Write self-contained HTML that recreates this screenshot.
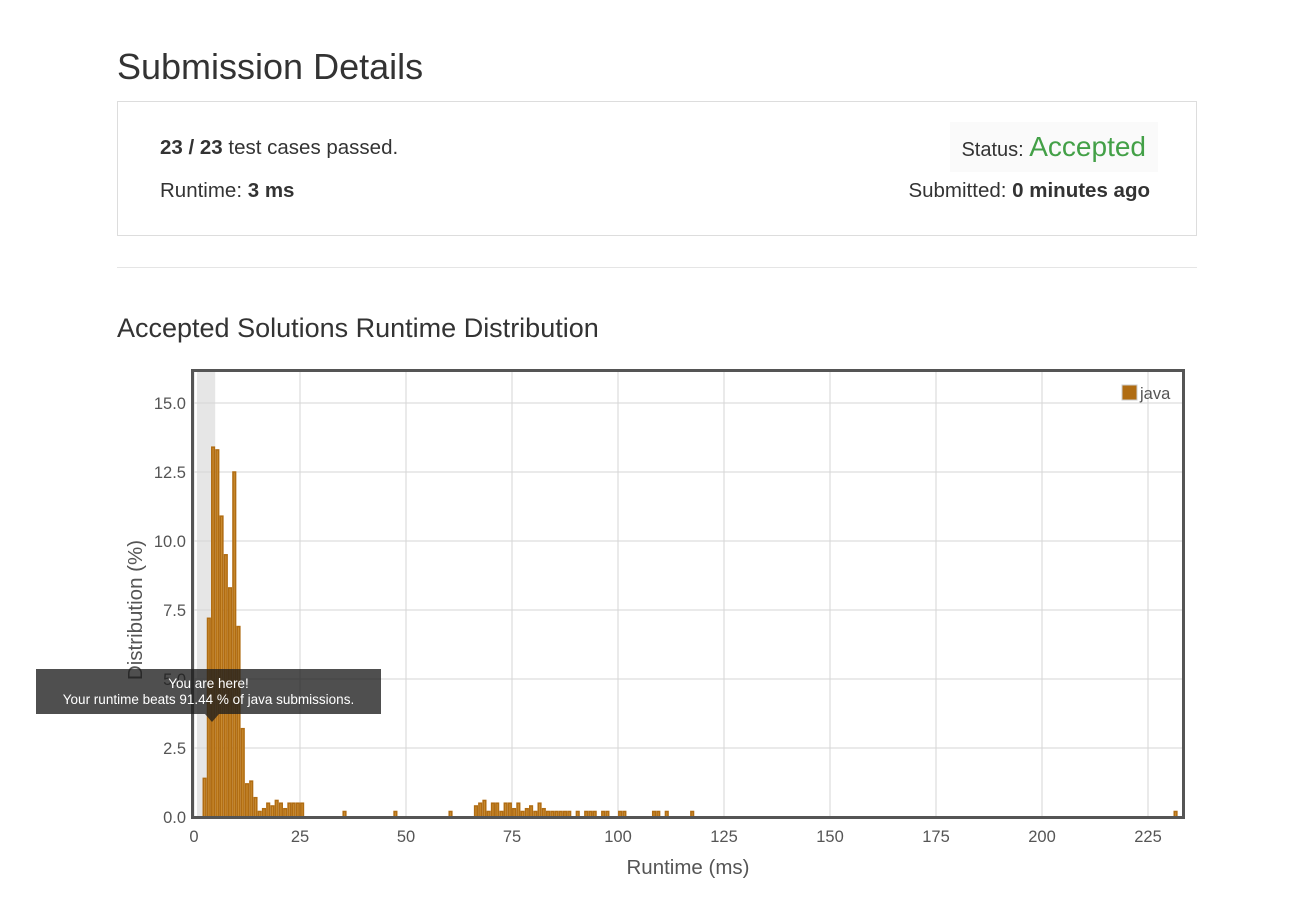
<!DOCTYPE html>
<html><head><meta charset="utf-8"><style>
body{margin:0;width:1291px;height:897px;background:#fff;font-family:"Liberation Sans",sans-serif;color:#333;position:relative;overflow:hidden}
.abs{position:absolute}
</style></head><body>
<div class="abs" style="left:117px;top:46px;font-size:36px;color:#333">Submission Details</div>
<div class="abs" style="left:117px;top:101px;width:1078px;height:133px;border:1px solid #ddd">
  <div class="abs" style="left:42px;top:34px;font-size:20.5px;white-space:nowrap"><b>23 / 23</b> test cases passed.</div>
  <div class="abs" style="left:42px;top:77px;font-size:20.5px;white-space:nowrap">Runtime: <b>3 ms</b></div>
  <div class="abs" style="left:832px;top:20px;width:208px;height:50px;background:#fafafa;font-size:20px;text-align:right;line-height:50px;padding-right:0;box-sizing:border-box;padding-right:12px;white-space:nowrap">Status: <span style="color:#43a047;font-size:28px">Accepted</span></div>
  <div class="abs" style="right:46px;top:77px;font-size:20.5px;white-space:nowrap">Submitted: <b>0 minutes ago</b></div>
</div>
<div class="abs" style="left:117px;top:267px;width:1080px;height:1px;background:#e5e5e5"></div>
<div class="abs" style="left:117px;top:313px;font-size:27px;color:#333">Accepted Solutions Runtime Distribution</div>
<svg class="abs" style="left:0;top:0" width="1291" height="897" id="chart"></svg>
<div class="abs" style="left:36px;top:669px;width:345px;height:45px;background:rgba(30,30,30,0.78);color:#fff;font-size:13.5px;text-align:center;line-height:16px;padding-top:7px;box-sizing:border-box">You are here!<br>Your runtime beats 91.44 % of java submissions.</div>
<div class="abs" style="left:205px;top:714px;width:0;height:0;border-left:7px solid transparent;border-right:7px solid transparent;border-top:8px solid rgba(30,30,30,0.78)"></div>
<script>
const runtimes=[2,3,4,5,6,7,8,9,10,11,12,13,14,15,16,17,18,19,20,21,22,23,24,25,35,47,60,66,67,68,69,70,71,72,73,74,75,76,77,78,79,80,81,82,83,84,85,86,87,88,90,92,93,94,96,97,100,101,108,109,111,117,231];
const dist=[1.4,7.2,13.4,13.3,10.9,9.5,8.3,12.5,6.9,3.2,1.2,1.3,0.7,0.2,0.3,0.5,0.4,0.6,0.5,0.3,0.5,0.5,0.5,0.5,0.2,0.2,0.2,0.4,0.5,0.6,0.2,0.5,0.5,0.2,0.5,0.5,0.3,0.5,0.2,0.3,0.4,0.2,0.5,0.3,0.2,0.2,0.2,0.2,0.2,0.2,0.2,0.2,0.2,0.2,0.2,0.2,0.2,0.2,0.2,0.2,0.2,0.2,0.2];
const xTicks=[0,25,50,75,100,125,150,175,200,225];
const yTicks=[0,2.5,5,7.5,10,12.5,15];
const svg=document.getElementById('chart');
const NS='http://www.w3.org/2000/svg';
const L=193,R=1183,T=371,B=817;
const x=v=>194+v*(1148-194)/225;
const y=v=>817-v*(817-403)/15;
function mk(t,a){const e=document.createElementNS(NS,t);for(const k in a)e.setAttribute(k,a[k]);svg.appendChild(e);return e;}
const band=mk('rect',{x:x(0.7),y:T,width:x(5)-x(0.7),height:B-T,fill:'#e6e6e6'});


yTicks.forEach(v=>{
 const g=mk('line',{x1:L,x2:R,y1:y(v),y2:y(v),stroke:'#d6d6d6'});
 
 
 const t=mk('text',{x:186,y:y(v)+6,'text-anchor':'end','font-size':16.5,fill:'#555','font-family':'Liberation Sans'});
 t.textContent=v.toFixed(1);
 
 
});
xTicks.forEach(v=>{
 const g=mk('line',{x1:x(v),x2:x(v),y1:T,y2:B,stroke:'#d6d6d6'});
 
 
 const t=mk('text',{x:x(v),y:842,'text-anchor':'middle','font-size':16.5,fill:'#555','font-family':'Liberation Sans'});
 t.textContent=v;
 
 
});
const bw=(x(1)-x(0));
runtimes.forEach((r,i)=>{
 const b=mk('rect',{x:x(r)+0.8,y:y(dist[i]),width:bw-1.6,height:y(0)-y(dist[i]),fill:'#c98a2e',stroke:'#b06c12','stroke-width':1.5});
 
 
});
const f=mk('rect',{x:L-0.5,y:T-0.5,width:R-L+1,height:B-T+1,fill:'none',stroke:'#555','stroke-width':3});


const lg=mk('rect',{x:1122,y:385,width:15,height:15,fill:'#b06c12',stroke:'#ccc'});


const lt=mk('text',{x:1140,y:399,'font-size':16.5,fill:'#555','font-family':'Liberation Sans'});
lt.textContent='java';


const xl=mk('text',{x:688,y:874,'text-anchor':'middle','font-size':20.5,fill:'#555','font-family':'Liberation Sans'});
xl.textContent='Runtime (ms)';


const yl=mk('text',{x:142,y:610,'text-anchor':'middle','font-size':20.5,fill:'#555','font-family':'Liberation Sans',transform:'rotate(-90 142 610)'});
yl.textContent='Distribution (%)';


</script>
</body></html>
